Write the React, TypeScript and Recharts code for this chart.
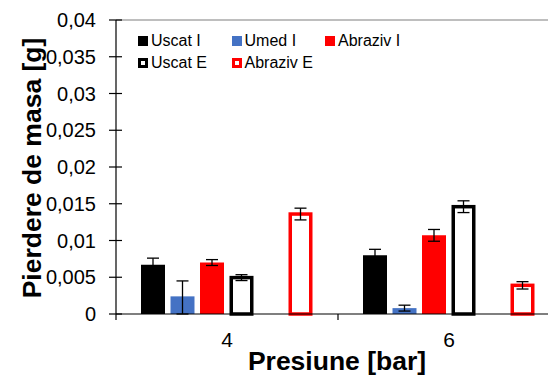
import { BarChart, Bar, XAxis, YAxis, ErrorBar, Legend, ReferenceLine, Label } from 'recharts';

const categories = ['4', '6'];
const uscatI = [0.0067, 0.008];
const uscatIErr = [0.0009, 0.0008];
const umedI = [0.0024, 0.0008];
const umedIErr = [[0.0024, 0.0021], [0.0004, 0.0004]];
const abrazivI = [0.007, 0.0107];
const abrazivIErr = [0.0004, 0.0008];
const uscatE = [0.00495, 0.0146];
const uscatEErr = [0.0004, 0.0008];
const umedE = [null, null];
const abrazivE = [0.0136, 0.0039];
const abrazivEErr = [0.0008, 0.0005];
const yTicks = [0, 0.005, 0.01, 0.015, 0.02, 0.025, 0.03, 0.035, 0.04];

// legend order as in the original (Umed E has no data and no entry)
const legendNames = ['Uscat I', 'Umed I', 'Abraziv I', 'Uscat E', 'Abraziv E'];
const legendColors = ['#000', '#4472C4', '#FF0000', '#000', '#FF0000'];
const legendOutline = [false, false, false, true, true];

const data = categories.map((cat, i) => ({
  cat,
  uscatI: uscatI[i],
  uscatIErr: uscatIErr[i],
  umedI: umedI[i],
  umedIErr: umedIErr[i],
  abrazivI: abrazivI[i],
  abrazivIErr: abrazivIErr[i],
  uscatE: uscatE[i],
  uscatEErr: uscatEErr[i],
  umedE: umedE[i],
  abrazivE: abrazivE[i],
  abrazivEErr: abrazivEErr[i],
}));

const FONT = 'Arial, "Liberation Sans", sans-serif';
const BLUE = '#4472C4';
const RED = '#FF0000';

const fmt = (v: number) => String(v).replace('.', ',');

const YTick = ({ x, y, payload }: any) => (
  <g>
    <line x1={x - 7} x2={x + 6} y1={y} y2={y} stroke="#000" strokeWidth={1.2} />
    <text x={x - 20} y={y} dy={7} textAnchor="end" fontSize={20} fontFamily={FONT} fill="#000">
      {fmt(payload.value)}
    </text>
  </g>
);

const XTick = ({ x, y, payload }: any) => {
  const half = payload.offset || 111;
  return (
    <g>
      <line x1={x - half} x2={x - half} y1={y} y2={y + 6} stroke="#000" strokeWidth={1.2} />
      <text x={x} y={y + 33} textAnchor="middle" fontSize={21} fontFamily={FONT} fill="#000">
        {payload.value}
      </text>
    </g>
  );
};

const OutlineBar = (props: any) => {
  const { x, y, width, height, stroke } = props;
  if (!height) return null;
  return (
    <rect x={x + 1.75} y={y} width={width - 3.5} height={height} fill="#fff" stroke={stroke} strokeWidth={3.5} />
  );
};

const LegendBox = () => (
  <div style={{ display: 'grid', gridTemplateColumns: '93.5px 93.5px 93.5px', fontFamily: FONT, fontSize: 16, color: '#000' }}>
    {legendNames.map((name, i) => (
      <div key={name} style={{ display: 'flex', alignItems: 'center', height: 22 }}>
        <span
          style={{
            display: 'inline-block',
            width: 10,
            height: 10,
            boxSizing: 'border-box',
            background: legendOutline[i] ? '#fff' : legendColors[i],
            border: legendOutline[i] ? `3px solid ${legendColors[i]}` : 'none',
            marginRight: 3,
          }}
        />
        {name}
      </div>
    ))}
  </div>
);

export default function App() {
  return (
    <div style={{ position: 'fixed', top: 0, left: 0, width: 548, height: 376, overflow: 'hidden', background: '#fff' }}>
      <BarChart
        width={560}
        height={376}
        data={data}
        margin={{ top: 20, right: 0, bottom: 0, left: 0 }}
        barCategoryGap={25}
        barGap={5.5}
      >
        <XAxis
          dataKey="cat"
          height={62}
          stroke="#000"
          strokeWidth={1.2}
          tickLine={false}
          tickSize={0}
          tickMargin={0}
          tick={<XTick />}
          interval={0}
        >
          <Label
            content={() => (
              <text
                x={337}
                y={370}
                textAnchor="middle"
                fontSize={26.5}
                fontWeight="bold"
                fontFamily={FONT}
                fill="#000"
              >
                Presiune [bar]
              </text>
            )}
          />
        </XAxis>
        <YAxis
          width={116}
          domain={[0, 0.04]}
          ticks={yTicks}
          stroke="#000"
          strokeWidth={1.2}
          tickLine={false}
          tickSize={0}
          tickMargin={0}
          tick={<YTick />}
          interval={0}
        >
          <Label
            content={() => (
              <text
                transform="translate(41,168) rotate(-90)"
                textAnchor="middle"
                fontSize={26.5}
                fontWeight="bold"
                fontFamily={FONT}
                fill="#000"
              >
                Pierdere de masa [g]
              </text>
            )}
          />
        </YAxis>
        <ReferenceLine y={0.04} stroke="#7f7f7f" strokeWidth={1.2} />
        <Legend
          layout="horizontal"
          verticalAlign="middle"
          align="center"
          content={<LegendBox />}
          wrapperStyle={{ position: 'absolute', left: 138, top: 30, width: 290, height: 44 }}
        />
        <Bar dataKey="uscatI" name="Uscat I" fill="#000" isAnimationActive={false}>
          <ErrorBar dataKey="uscatIErr" width={6} stroke="#000" strokeWidth={1.3} />
        </Bar>
        <Bar dataKey="umedI" name="Umed I" fill={BLUE} isAnimationActive={false}>
          <ErrorBar dataKey="umedIErr" width={6} stroke="#000" strokeWidth={1.3} />
        </Bar>
        <Bar dataKey="abrazivI" name="Abraziv I" fill={RED} isAnimationActive={false}>
          <ErrorBar dataKey="abrazivIErr" width={6} stroke="#000" strokeWidth={1.3} />
        </Bar>
        <Bar dataKey="uscatE" name="Uscat E" fill="#000" stroke="#000" shape={<OutlineBar />} isAnimationActive={false}>
          <ErrorBar dataKey="uscatEErr" width={6} stroke="#000" strokeWidth={1.3} />
        </Bar>
        <Bar dataKey="umedE" name="Umed E" fill={BLUE} legendType="none" isAnimationActive={false} />
        <Bar dataKey="abrazivE" name="Abraziv E" fill={RED} stroke={RED} shape={<OutlineBar />} isAnimationActive={false}>
          <ErrorBar dataKey="abrazivEErr" width={6} stroke="#000" strokeWidth={1.3} />
        </Bar>
      </BarChart>
    </div>
  );
}
